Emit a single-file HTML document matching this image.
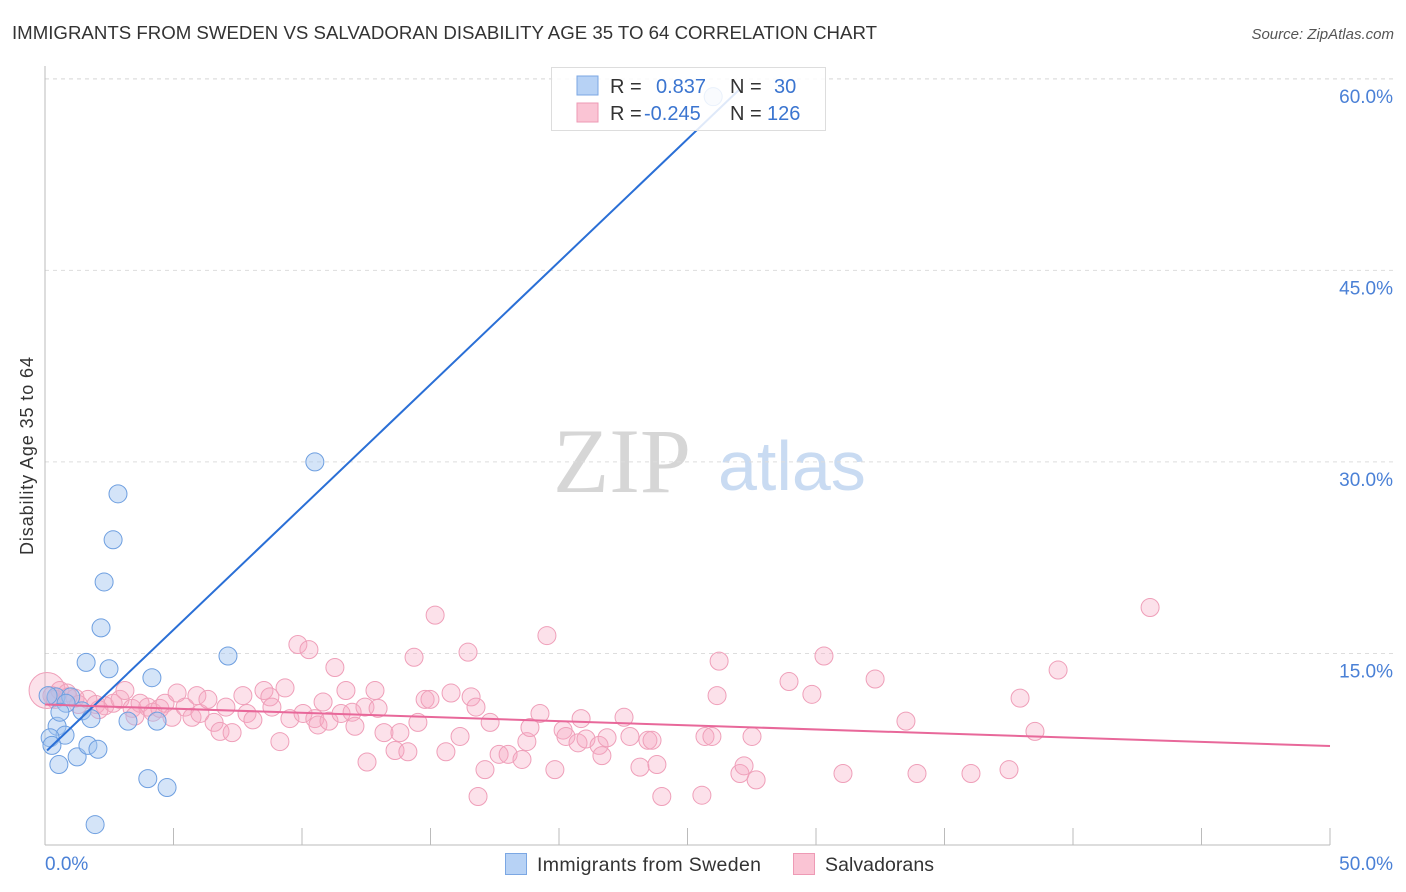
<!DOCTYPE html>
<html><head><meta charset="utf-8"><style>
body{margin:0;background:#fff;font-family:"Liberation Sans",sans-serif;}
#wrap{position:relative;width:1406px;height:892px;overflow:hidden;}
</style></head><body><div id="wrap">
<svg id="svg" width="1406" height="892" xmlns="http://www.w3.org/2000/svg">
<text x="12" y="39" font-size="18" fill="#333" textLength="865" lengthAdjust="spacingAndGlyphs">IMMIGRANTS FROM SWEDEN VS SALVADORAN DISABILITY AGE 35 TO 64 CORRELATION CHART</text>
<text x="1394" y="39" font-size="15" fill="#555" font-style="italic" text-anchor="end">Source: ZipAtlas.com</text>
<text x="33" y="456" font-size="18" fill="#333" text-anchor="middle" textLength="198" transform="rotate(-90 33 456)">Disability Age 35 to 64</text>
<g><text x="553" y="492" font-size="92" font-family="Liberation Serif,serif" fill="#d6d6d6">ZIP</text><text x="718" y="490" font-size="70" fill="#c9dbf2">atlas</text></g>
<g id="grid"></g><g id="axes"></g><g id="pts"></g><g id="lines"></g>
<g>
<rect x="551.5" y="67.5" width="274" height="63" fill="#fff" fill-opacity="0.85" stroke="#ddd"/>
<rect x="577" y="76" width="21" height="19" fill="#b7d2f5" stroke="#7ba7e3"/>
<rect x="577" y="103" width="21" height="19" fill="#fac4d4" stroke="#ee9ab5"/>
<text x="610" y="93" font-size="20" fill="#333">R =</text><text x="656" y="93" font-size="20" fill="#3b75d0">0.837</text>
<text x="730" y="93" font-size="20" fill="#333">N =</text><text x="774" y="93" font-size="20" fill="#3b75d0">30</text>
<text x="610" y="120" font-size="20" fill="#333">R =</text><text x="644" y="120" font-size="20" fill="#3b75d0">-0.245</text>
<text x="730" y="120" font-size="20" fill="#333">N =</text><text x="767" y="120" font-size="20" fill="#3b75d0">126</text>
</g>
<g>
<rect x="505.5" y="853.5" width="21" height="21" fill="#b7d2f5" stroke="#7ba7e3"/>
<text x="537" y="871" font-size="19.5" fill="#333" textLength="224">Immigrants from Sweden</text>
<rect x="793.5" y="853.5" width="21" height="21" fill="#fac4d4" stroke="#ee9ab5"/>
<text x="825" y="871" font-size="19.5" fill="#333" textLength="109">Salvadorans</text>
</g>
</svg></div>
<script>
const yTicks=[15,30,45,60];
const yTickLabels=["15.0%","30.0%","45.0%","60.0%"];
const xTicks=[0,5,10,15,20,25,30,35,40,45,50];
const xEndLabels=["0.0%","50.0%"];
const blueX=[10.5,2.84,2.65,2.3,2.18,1.6,2.49,4.16,7.12,0.43,1.0,1.44,1.79,0.47,0.78,0.2,3.23,4.36,0.54,1.25,1.67,2.06,4.0,4.75,1.95,26.0,0.12,0.82,0.27,0.58];
const blueY=[30.0,27.5,23.9,20.6,17.0,14.3,13.8,13.1,14.8,11.6,11.6,10.5,9.9,9.3,8.6,8.4,9.7,9.7,6.3,6.9,7.8,7.5,5.2,4.5,1.6,58.6,11.7,11.1,7.8,10.4];
const pinkX=[0.27,0.58,0.86,1.17,1.67,1.98,2.33,2.65,2.92,3.11,3.39,3.7,4.0,4.2,4.47,4.67,4.94,5.14,5.45,5.72,5.91,6.03,6.34,6.58,6.81,7.04,7.28,7.7,7.86,8.09,8.52,8.75,8.83,9.14,9.34,9.53,9.84,10.04,10.27,10.5,10.62,10.82,11.05,11.28,11.52,11.71,11.95,12.06,12.53,12.45,12.84,12.96,13.19,13.62,13.81,14.12,14.36,14.51,14.79,14.98,15.18,15.6,15.8,16.15,16.46,16.58,16.77,16.85,17.12,17.32,17.67,18.02,18.56,18.75,18.87,19.26,19.53,19.84,20.16,20.27,20.74,20.86,21.05,21.56,21.67,21.87,22.53,22.76,23.15,23.46,23.62,23.81,24.0,25.56,25.68,25.95,26.15,26.23,27.04,27.2,27.51,27.67,28.95,29.84,30.31,31.05,32.3,33.5,33.93,36.03,37.51,37.94,38.52,39.42,43.0,0.4,1.3,2.1,3.5,0.9];
const pinkY=[11.7,12.1,11.9,11.5,11.4,11.0,10.9,11.1,11.4,12.1,10.7,11.1,10.8,10.4,10.7,11.1,10.0,11.9,10.8,10.0,11.7,10.3,11.4,9.6,8.9,10.8,8.8,11.7,10.3,9.8,12.1,11.6,10.8,8.1,12.3,9.9,15.7,10.3,15.3,9.9,9.4,11.2,9.7,13.9,10.3,12.1,10.4,9.3,6.5,10.8,12.1,10.7,8.8,7.4,8.8,7.3,14.7,9.6,11.4,11.4,18.0,7.3,11.9,8.5,15.1,11.6,10.8,3.8,5.9,9.6,7.1,7.1,6.7,8.1,9.2,10.3,16.4,5.9,9.0,8.5,8.0,9.9,8.3,7.8,7.0,8.4,10.0,8.5,6.1,8.2,8.2,6.3,3.8,3.9,8.5,8.5,11.7,14.4,5.6,6.2,8.5,5.1,12.8,11.8,14.8,5.6,13.0,9.7,5.6,5.6,5.9,11.5,8.9,13.7,18.6,11.4,11.0,10.6,10.1,11.6];
const blueLine=[0.08,7.4,27.04,59.2];
const pinkLine=[0,11.0,50,7.75];
const X0=45,X1=1330,Y0=845,PX=(X1-X0)/50,PY=12.77;
const xs=v=>X0+v*PX, ys=v=>Y0-v*PY;
const NS="http://www.w3.org/2000/svg";
function mk(tag,attrs,parent){const e=document.createElementNS(NS,tag);for(const k in attrs)e.setAttribute(k,attrs[k]);document.getElementById(parent).appendChild(e);return e;}
mk('line',{x1:X0,y1:66,x2:X0,y2:Y0,stroke:'#bbb'},'axes');
mk('line',{x1:X0,y1:Y0,x2:X1,y2:Y0,stroke:'#bbb'},'axes');
mk('line',{x1:X0,y1:79,x2:1395,y2:79,stroke:'#ddd','stroke-dasharray':'4,4'},'grid');
yTicks.forEach((t,i)=>{
 const g=mk('line',{x1:X0,y1:ys(t),x2:1395,y2:ys(t),stroke:'#ddd','stroke-dasharray':'4,4'},'grid');
 
 
 const l=mk('text',{x:1393,y:ys(t)+24,'font-size':19,fill:'#4a80d6','text-anchor':'end'},'axes');
 l.textContent=yTickLabels[i];
 
 
});
xTicks.forEach(t=>{
 const l=mk('line',{x1:xs(t),y1:828,x2:xs(t),y2:Y0,stroke:'#bbb'},'axes');
 
 
});
const xl0=mk('text',{x:45,y:870,'font-size':19,fill:'#4a80d6'},'axes');xl0.textContent=xEndLabels[0];


const xl1=mk('text',{x:1393,y:870,'font-size':19,fill:'#4a80d6','text-anchor':'end'},'axes');xl1.textContent=xEndLabels[1];


const big=mk('circle',{cx:xs(0.08),cy:ys(12.1),r:18,fill:'rgba(245,170,195,0.35)',stroke:'#ef9fb9'},'pts');


pinkX.forEach((x,i)=>{
 const c=mk('circle',{cx:xs(x),cy:ys(pinkY[i]),r:9,fill:'rgba(245,170,195,0.35)',stroke:'#ef9fb9'},'pts');
 
 
});
blueX.forEach((x,i)=>{
 const c=mk('circle',{cx:xs(x),cy:ys(blueY[i]),r:9,fill:'rgba(160,196,240,0.45)',stroke:'#6e9fe0'},'pts');
 
 
});
const bl=mk('line',{x1:xs(blueLine[0]),y1:ys(blueLine[1]),x2:xs(blueLine[2]),y2:ys(blueLine[3]),stroke:'#2a6fd6','stroke-width':2},'lines');


const pl=mk('line',{x1:xs(pinkLine[0]),y1:ys(pinkLine[1]),x2:xs(pinkLine[2]),y2:ys(pinkLine[3]),stroke:'#e8689a','stroke-width':2},'lines');


</script></body></html>
